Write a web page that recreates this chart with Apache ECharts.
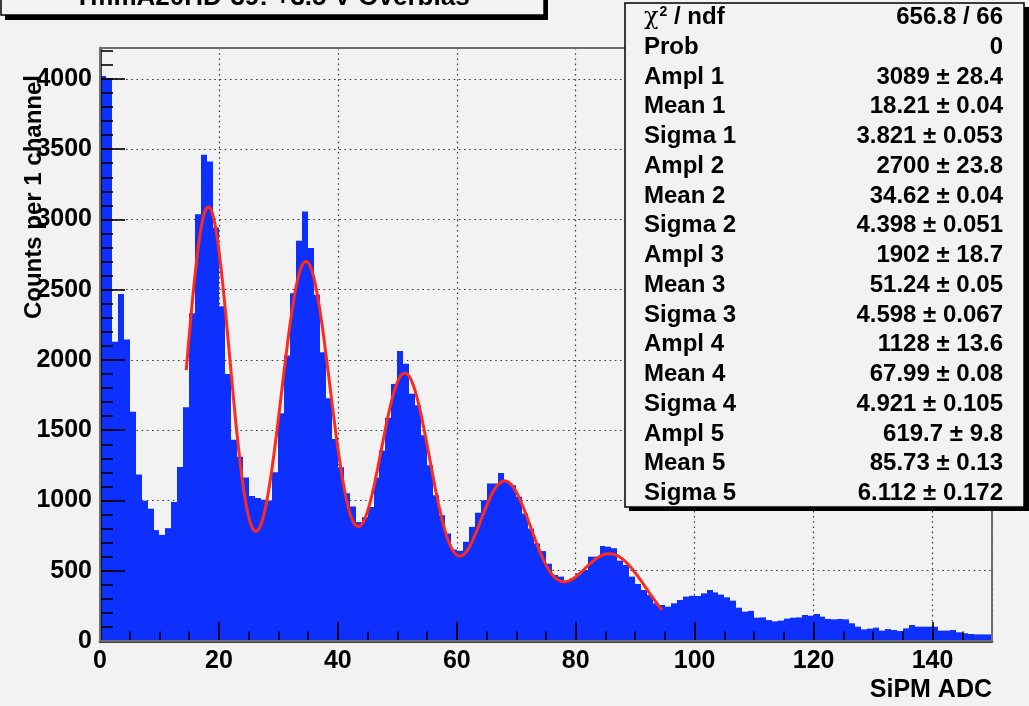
<!DOCTYPE html>
<html>
<head>
<meta charset="utf-8">
<script src="https://cdn.jsdelivr.net/npm/echarts@6/dist/echarts.min.js"></script>
<style>
  html, body { margin: 0; padding: 0; background: #f2f2f2; }
  #chart { width: 1029px; height: 706px; }
</style>
</head>
<body>
<div id="chart"></div>
<script>
// SiPM ADC spectrum, 150 channels of width 1 starting at 0
const binLow = 0;
const binWidth = 1;
const counts = [
  4020, 4000, 2130, 2470, 2146, 1632, 1185, 998, 942, 789,
  755, 803, 990, 1239, 1664, 2333, 3037, 3460, 3412, 2943,
  2382, 1900, 1432, 1311, 1164, 1031, 1017, 1005, 1000, 1201,
  1621, 2031, 2474, 2848, 3057, 2796, 2464, 2055, 1727, 1438,
  1237, 1052, 957, 846, 881, 953, 1161, 1355, 1588, 1829,
  2063, 1973, 1760, 1677, 1464, 1251, 1037, 895, 765, 651,
  642, 706, 812, 912, 1002, 1120, 1120, 1196, 1132, 1108,
  1026, 907, 800, 694, 640, 550, 470, 458, 422, 446,
  482, 505, 600, 600, 676, 671, 660, 572, 541, 458,
  406, 363, 327, 268, 256, 244, 268, 292, 316, 322,
  320, 339, 363, 346, 330, 311, 287, 237, 209, 214,
  166, 168, 149, 140, 145, 159, 166, 168, 185, 180,
  192, 173, 157, 154, 157, 154, 126, 102, 83, 88,
  95, 74, 85, 78, 71, 90, 114, 102, 102, 102,
  102, 74, 74, 78, 62, 55, 50, 47, 47, 47
];

// Five-Gaussian fit parameters (as printed in the stats box)
const fitAmpl  = [3089, 2700, 1902, 1128, 619.7];
const fitMean  = [18.21, 34.62, 51.24, 67.99, 85.73];
const fitSigma = [3.821, 4.398, 4.598, 4.921, 6.112];
const fitRange = [14.5, 94.5];

// Stats box rows
const statLabels = ['{chi|χ}{sup|2}{n| / ndf}', 'Prob',
  'Ampl 1', 'Mean 1', 'Sigma 1', 'Ampl 2', 'Mean 2', 'Sigma 2',
  'Ampl 3', 'Mean 3', 'Sigma 3', 'Ampl 4', 'Mean 4', 'Sigma 4',
  'Ampl 5', 'Mean 5', 'Sigma 5'];
const statValues = ['656.8 / 66', '0',
  '3089 ± 28.4', '18.21 ± 0.04', '3.821 ± 0.053',
  '2700 ± 23.8', '34.62 ± 0.04', '4.398 ± 0.051',
  '1902 ± 18.7', '51.24 ± 0.05', '4.598 ± 0.067',
  '1128 ± 13.6', '67.99 ± 0.08', '4.921 ± 0.105',
  '619.7 ± 9.8', '85.73 ± 0.13', '6.112 ± 0.172'];

const titleText = 'TmmA20HD-39: +3.5 V Overbias';
const xTitle = 'SiPM ADC';
const yTitle = 'Counts per 1 channel';

const xRange = [0, 150];
const yRange = [0, 4220];
const xMajor = 20, xMinor = 5;
const yMajor = 500, yMinor = 100;

// histogram bins as [low edge, high edge, content]
const histData = counts.map((c, i) => [binLow + i * binWidth, binLow + (i + 1) * binWidth, c]);

// fit function evaluated along its range
function fitFunc(x) {
  let s = 0;
  for (let k = 0; k < fitAmpl.length; k++) {
    const d = (x - fitMean[k]) / fitSigma[k];
    s += fitAmpl[k] * Math.exp(-0.5 * d * d);
  }
  return s;
}
const fitCurve = [];
for (let i = 0; i <= 800; i++) {
  const x = fitRange[0] + (fitRange[1] - fitRange[0]) * i / 800;
  fitCurve.push([x, fitFunc(x)]);
}

const FONT = '"Liberation Sans", Arial, Helvetica, sans-serif';
const G = { left: 100, top: 48, width: 892, height: 593 };
const HIST_BLUE = '#0d30ff';

const chart = echarts.init(document.getElementById('chart'), null, { renderer: 'canvas' });

function gridAxis(extra) {
  return Object.assign({
    type: 'value', axisLine: { show: false }, axisTick: { show: false },
    axisLabel: { show: false }, splitLine: { show: false }
  }, extra);
}

const statGraphics = [];
const rowTop = 17.5, rowStep = 29.75;
statLabels.forEach((lab, i) => {
  statGraphics.push({
    type: 'text', x: 644, y: rowTop + i * rowStep, z: 60,
    style: {
      text: lab, fill: '#000', font: 'bold 24px ' + FONT,
      textAlign: 'left', textVerticalAlign: 'middle',
      rich: {
        chi: { font: '24px "DejaVu Serif", serif', fill: '#000' },
        sup: { font: 'bold 14px ' + FONT, fill: '#000', verticalAlign: 'top', padding: [0, 0, 10, 1] },
        n: { font: 'bold 24px ' + FONT, fill: '#000' }
      }
    }
  });
  statGraphics.push({
    type: 'text', x: 1003, y: rowTop + i * rowStep, z: 60,
    style: {
      text: statValues[i], fill: '#000', font: 'bold 24px ' + FONT,
      textAlign: 'right', textVerticalAlign: 'middle'
    }
  });
});

const option = {
  backgroundColor: '#f2f2f2',
  animation: false,
  grid: { left: G.left, top: G.top, width: G.width, height: G.height, containLabel: false },
  xAxis: [
    // dotted grid behind the histogram
    gridAxis({ min: xRange[0], max: xRange[1], interval: xMajor, z: 0,
      splitLine: { show: true, lineStyle: { color: '#3a3a3a', width: 1.2, type: [1.6, 3.6] } } }),
    // labelled axis with major ticks, drawn above the bars
    {
      type: 'value', position: 'bottom', min: xRange[0], max: xRange[1], interval: xMajor, z: 10,
      axisLine: { show: true, onZero: false, lineStyle: { color: '#000', width: 2.5 } },
      axisTick: { show: true, inside: true, length: 19, lineStyle: { color: '#000', width: 1.6 } },
      axisLabel: {
        show: true, margin: 8, color: '#000', fontFamily: FONT, fontWeight: 'bold', fontSize: 25,
        showMaxLabel: false,
        formatter: v => (v % xMajor === 0 ? String(v) : '')
      },
      splitLine: { show: false }
    },
    // minor ticks
    gridAxis({ position: 'bottom', min: xRange[0], max: xRange[1], interval: xMinor, z: 10,
      axisTick: { show: true, inside: true, length: 9.5, lineStyle: { color: '#000', width: 1.6 } } })
  ],
  yAxis: [
    gridAxis({ min: yRange[0], max: yRange[1], interval: yMajor, z: 0,
      splitLine: { show: true, lineStyle: { color: '#3a3a3a', width: 1.2, type: [1.6, 3.6] } } }),
    {
      type: 'value', position: 'left', min: yRange[0], max: yRange[1], interval: yMajor, z: 10,
      axisLine: { show: true, onZero: false, lineStyle: { color: '#000', width: 2.5 } },
      axisTick: { show: true, inside: true, length: 25, lineStyle: { color: '#000', width: 1.6 } },
      axisLabel: {
        show: true, margin: 8, color: '#000', fontFamily: FONT, fontWeight: 'bold', fontSize: 25,
        showMaxLabel: false,
        formatter: v => (v % yMajor === 0 ? String(v) : '')
      },
      splitLine: { show: false }
    },
    gridAxis({ position: 'left', min: yRange[0], max: yRange[1], interval: yMinor, z: 10,
      axisTick: { show: true, inside: true, length: 13, lineStyle: { color: '#000', width: 1.6 } } })
  ],
  series: [
    {
      type: 'custom', name: 'counts', xAxisIndex: 0, yAxisIndex: 0, z: 2,
      data: histData,
      encode: { x: [0, 1], y: 2 },
      renderItem: (params, api) => {
        const a = api.coord([api.value(0), api.value(2)]);
        const b = api.coord([api.value(1), 0]);
        // snap bin edges to whole pixels so neighbouring bins join without seams
        const x0 = Math.round(a[0]), x1 = Math.round(b[0]);
        return {
          type: 'rect',
          shape: { x: x0, y: a[1], width: x1 - x0, height: b[1] - a[1] },
          style: { fill: HIST_BLUE }
        };
      }
    },
    {
      type: 'line', name: 'fit', xAxisIndex: 0, yAxisIndex: 0, z: 4,
      data: fitCurve, showSymbol: false, smooth: false,
      lineStyle: { color: '#ff2a1a', width: 3 }
    }
  ],
  graphic: [
    // frame
    { type: 'rect', z: 20, shape: { x: G.left, y: G.top, width: G.width, height: G.height },
      style: { fill: 'none', stroke: '#6e6e6e', lineWidth: 2 } },
    // title pave with shadow
    { type: 'rect', z: 30, shape: { x: 5, y: -10, width: 543, height: 30 }, style: { fill: '#000' } },
    { type: 'rect', z: 31, shape: { x: 1, y: -14, width: 543, height: 29 },
      style: { fill: '#f2f2f2', stroke: '#000', lineWidth: 1.5 } },
    { type: 'text', z: 32, x: 272, y: 11,
      style: { text: titleText, fill: '#000', font: 'bold 26px ' + FONT, textAlign: 'center', textVerticalAlign: 'bottom' } },
    // stats box with shadow
    { type: 'rect', z: 50, shape: { x: 629, y: 7, width: 400, height: 504 }, style: { fill: '#000' } },
    { type: 'rect', z: 51, shape: { x: 625, y: 3, width: 399, height: 504 },
      style: { fill: '#f2f2f2', stroke: '#000', lineWidth: 1.5 } },
    ...statGraphics,
    // axis titles
    { type: 'text', z: 40, x: 992, y: 690,
      style: { text: xTitle, fill: '#000', font: 'bold 25px ' + FONT, textAlign: 'right', textVerticalAlign: 'middle' } },
    { type: 'text', z: 40, x: 34, y: 75, rotation: Math.PI / 2,
      style: { text: yTitle, fill: '#000', font: 'bold 24px ' + FONT, textAlign: 'right', textVerticalAlign: 'middle' } }
  ]
};

chart.setOption(option);
</script>
</body>
</html>
